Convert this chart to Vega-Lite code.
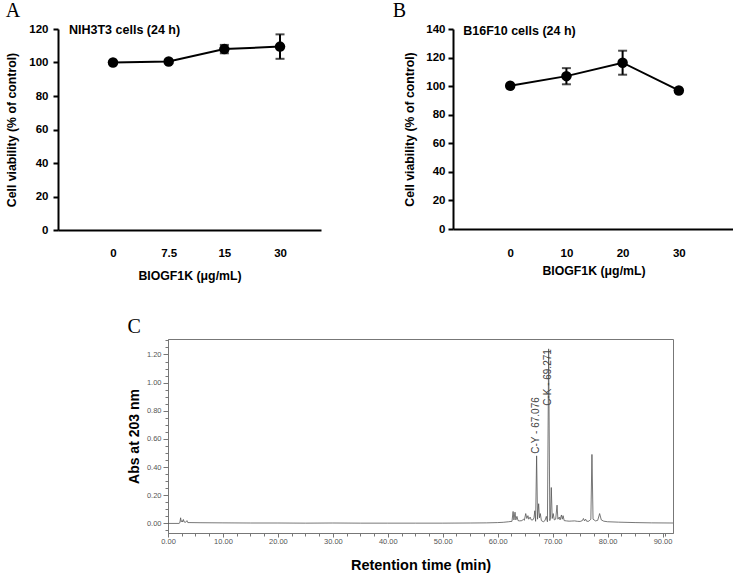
{
  "$schema": "https://vega.github.io/schema/vega-lite/v6.json",
  "padding": {"left": 5, "top": 1, "right": 0, "bottom": 0},
  "background": "white",
  "config": {"view": {"stroke": null}, "font": "Liberation Sans", "axis": {"grid": false}},
  "spacing": 34,
  "vconcat": [
    {
      "spacing": 71,
      "hconcat": [
        {
          "width": 263,
          "height": 201,
          "title": {"text": "A", "anchor": "start", "frame": "bounds", "font": "Liberation Serif", "fontSize": 20, "fontWeight": "normal", "offset": 2, "color": "black"},
          "data": {"values": [
            {"dose": "0", "mean": 100, "lo": 99.5, "hi": 100.5},
            {"dose": "7.5", "mean": 100.6, "lo": 99.6, "hi": 101.6},
            {"dose": "15", "mean": 108, "lo": 105.5, "hi": 110.5},
            {"dose": "30", "mean": 109.5, "lo": 102.2, "hi": 116.8}
          ]},
          "encoding": {
            "x": {"field": "dose", "type": "ordinal", "sort": null,
              "scale": {"type": "point", "padding": 0.862, "align": 0.573},
              "axis": {"title": "BIOGF1K (μg/mL)", "labelAngle": 0, "ticks": false, "labelPadding": 17, "domainWidth": 2, "domainColor": "black", "labelFontWeight": "bold", "labelFontSize": 11.5, "labelColor": "black", "titleFontSize": 12.3, "titleFontWeight": "bold", "titleColor": "black", "titlePadding": 11}}
          },
          "layer": [
            {"mark": {"type": "rule", "color": "black", "strokeWidth": 2},
              "encoding": {"y": {"field": "lo", "type": "quantitative", "scale": {"domain": [0, 120], "nice": false},
                "axis": {"values": [0, 20, 40, 60, 80, 100, 120], "labelOverlap": false, "title": "Cell viability (% of control)", "tickSize": 5, "tickWidth": 2, "tickColor": "black", "domainWidth": 2, "domainColor": "black", "labelFontWeight": "bold", "labelFontSize": 11.5, "labelColor": "black", "labelPadding": 5, "titleFontSize": 12.3, "titleFontWeight": "bold", "titleColor": "black", "titlePadding": 10}},
                "y2": {"field": "hi"}}},
            {"mark": {"type": "tick", "color": "black", "size": 9, "thickness": 2},
              "encoding": {"y": {"field": "lo", "type": "quantitative", "scale": {"domain": [0, 120], "nice": false},
                "axis": {"values": [0, 20, 40, 60, 80, 100, 120], "labelOverlap": false, "title": "Cell viability (% of control)", "tickSize": 5, "tickWidth": 2, "tickColor": "black", "domainWidth": 2, "domainColor": "black", "labelFontWeight": "bold", "labelFontSize": 11.5, "labelColor": "black", "labelPadding": 5, "titleFontSize": 12.3, "titleFontWeight": "bold", "titleColor": "black", "titlePadding": 10}}}},
            {"mark": {"type": "tick", "color": "black", "size": 9, "thickness": 2},
              "encoding": {"y": {"field": "hi", "type": "quantitative", "scale": {"domain": [0, 120], "nice": false},
                "axis": {"values": [0, 20, 40, 60, 80, 100, 120], "labelOverlap": false, "title": "Cell viability (% of control)", "tickSize": 5, "tickWidth": 2, "tickColor": "black", "domainWidth": 2, "domainColor": "black", "labelFontWeight": "bold", "labelFontSize": 11.5, "labelColor": "black", "labelPadding": 5, "titleFontSize": 12.3, "titleFontWeight": "bold", "titleColor": "black", "titlePadding": 10}}}},
            {"mark": {"type": "line", "color": "black", "strokeWidth": 2},
              "encoding": {"y": {"field": "mean", "type": "quantitative", "scale": {"domain": [0, 120], "nice": false},
                "axis": {"values": [0, 20, 40, 60, 80, 100, 120], "labelOverlap": false, "title": "Cell viability (% of control)", "tickSize": 5, "tickWidth": 2, "tickColor": "black", "domainWidth": 2, "domainColor": "black", "labelFontWeight": "bold", "labelFontSize": 11.5, "labelColor": "black", "labelPadding": 5, "titleFontSize": 12.3, "titleFontWeight": "bold", "titleColor": "black", "titlePadding": 10}}}},
            {"mark": {"type": "point", "filled": true, "color": "black", "opacity": 1, "size": 110},
              "encoding": {"y": {"field": "mean", "type": "quantitative", "scale": {"domain": [0, 120], "nice": false},
                "axis": {"values": [0, 20, 40, 60, 80, 100, 120], "labelOverlap": false, "title": "Cell viability (% of control)", "tickSize": 5, "tickWidth": 2, "tickColor": "black", "domainWidth": 2, "domainColor": "black", "labelFontWeight": "bold", "labelFontSize": 11.5, "labelColor": "black", "labelPadding": 5, "titleFontSize": 12.3, "titleFontWeight": "bold", "titleColor": "black", "titlePadding": 10}}}},
            {"data": {"values": [{"label": "NIH3T3 cells (24 h)", "x": "0", "y": 120}]},
              "mark": {"type": "text", "align": "left", "baseline": "middle", "fontWeight": "bold", "fontSize": 12.5, "color": "black", "dx": -44, "dy": 1},
              "encoding": {"x": {"field": "x", "type": "ordinal", "sort": null}, "y": {"field": "y", "type": "quantitative", "scale": {"domain": [0, 120], "nice": false},
                "axis": {"values": [0, 20, 40, 60, 80, 100, 120], "labelOverlap": false, "title": "Cell viability (% of control)", "tickSize": 5, "tickWidth": 2, "tickColor": "black", "domainWidth": 2, "domainColor": "black", "labelFontWeight": "bold", "labelFontSize": 11.5, "labelColor": "black", "labelPadding": 5, "titleFontSize": 12.3, "titleFontWeight": "bold", "titleColor": "black", "titlePadding": 10}}, "text": {"field": "label"}}}
          ]
        },
        {
          "width": 281,
          "height": 200,
          "title": {"text": "B", "anchor": "start", "frame": "bounds", "font": "Liberation Serif", "fontSize": 20, "fontWeight": "normal", "offset": 2, "dx": -11, "color": "black"},
          "data": {"values": [
            {"dose": "0", "mean": 100.3, "lo": 100, "hi": 100.6},
            {"dose": "10", "mean": 107, "lo": 101.3, "hi": 112.6},
            {"dose": "20", "mean": 116.4, "lo": 108, "hi": 124.8},
            {"dose": "30", "mean": 97, "lo": 96.6, "hi": 97.4}
          ]},
          "encoding": {
            "x": {"field": "dose", "type": "ordinal", "sort": null,
              "scale": {"type": "point", "padding": 1.024, "align": 0.509},
              "axis": {"title": "BIOGF1K (μg/mL)", "labelAngle": 0, "ticks": false, "labelPadding": 18, "domainWidth": 2, "domainColor": "black", "labelFontWeight": "bold", "labelFontSize": 11.5, "labelColor": "black", "titleFontSize": 12.3, "titleFontWeight": "bold", "titleColor": "black", "titlePadding": 6}}
          },
          "layer": [
            {"mark": {"type": "rule", "color": "black", "strokeWidth": 2},
              "encoding": {"y": {"field": "lo", "type": "quantitative", "scale": {"domain": [0, 140], "nice": false},
                "axis": {"values": [0, 20, 40, 60, 80, 100, 120, 140], "labelOverlap": false, "title": "Cell viability (% of control)", "tickSize": 5, "tickWidth": 2, "tickColor": "black", "domainWidth": 2, "domainColor": "black", "labelFontWeight": "bold", "labelFontSize": 11.5, "labelColor": "black", "labelPadding": 3, "titleFontSize": 12.3, "titleFontWeight": "bold", "titleColor": "black", "titlePadding": 9}},
                "y2": {"field": "hi"}}},
            {"mark": {"type": "tick", "color": "black", "size": 9, "thickness": 2},
              "encoding": {"y": {"field": "lo", "type": "quantitative", "scale": {"domain": [0, 140], "nice": false},
                "axis": {"values": [0, 20, 40, 60, 80, 100, 120, 140], "labelOverlap": false, "title": "Cell viability (% of control)", "tickSize": 5, "tickWidth": 2, "tickColor": "black", "domainWidth": 2, "domainColor": "black", "labelFontWeight": "bold", "labelFontSize": 11.5, "labelColor": "black", "labelPadding": 3, "titleFontSize": 12.3, "titleFontWeight": "bold", "titleColor": "black", "titlePadding": 9}}}},
            {"mark": {"type": "tick", "color": "black", "size": 9, "thickness": 2},
              "encoding": {"y": {"field": "hi", "type": "quantitative", "scale": {"domain": [0, 140], "nice": false},
                "axis": {"values": [0, 20, 40, 60, 80, 100, 120, 140], "labelOverlap": false, "title": "Cell viability (% of control)", "tickSize": 5, "tickWidth": 2, "tickColor": "black", "domainWidth": 2, "domainColor": "black", "labelFontWeight": "bold", "labelFontSize": 11.5, "labelColor": "black", "labelPadding": 3, "titleFontSize": 12.3, "titleFontWeight": "bold", "titleColor": "black", "titlePadding": 9}}}},
            {"mark": {"type": "line", "color": "black", "strokeWidth": 2},
              "encoding": {"y": {"field": "mean", "type": "quantitative", "scale": {"domain": [0, 140], "nice": false},
                "axis": {"values": [0, 20, 40, 60, 80, 100, 120, 140], "labelOverlap": false, "title": "Cell viability (% of control)", "tickSize": 5, "tickWidth": 2, "tickColor": "black", "domainWidth": 2, "domainColor": "black", "labelFontWeight": "bold", "labelFontSize": 11.5, "labelColor": "black", "labelPadding": 3, "titleFontSize": 12.3, "titleFontWeight": "bold", "titleColor": "black", "titlePadding": 9}}}},
            {"mark": {"type": "point", "filled": true, "color": "black", "opacity": 1, "size": 110},
              "encoding": {"y": {"field": "mean", "type": "quantitative", "scale": {"domain": [0, 140], "nice": false},
                "axis": {"values": [0, 20, 40, 60, 80, 100, 120, 140], "labelOverlap": false, "title": "Cell viability (% of control)", "tickSize": 5, "tickWidth": 2, "tickColor": "black", "domainWidth": 2, "domainColor": "black", "labelFontWeight": "bold", "labelFontSize": 11.5, "labelColor": "black", "labelPadding": 3, "titleFontSize": 12.3, "titleFontWeight": "bold", "titleColor": "black", "titlePadding": 9}}}},
            {"data": {"values": [{"label": "B16F10 cells (24 h)", "x": "0", "y": 140}]},
              "mark": {"type": "text", "align": "left", "baseline": "middle", "fontWeight": "bold", "fontSize": 12.5, "color": "black", "dx": -47, "dy": 2},
              "encoding": {"x": {"field": "x", "type": "ordinal", "sort": null}, "y": {"field": "y", "type": "quantitative", "scale": {"domain": [0, 140], "nice": false},
                "axis": {"values": [0, 20, 40, 60, 80, 100, 120, 140], "labelOverlap": false, "title": "Cell viability (% of control)", "tickSize": 5, "tickWidth": 2, "tickColor": "black", "domainWidth": 2, "domainColor": "black", "labelFontWeight": "bold", "labelFontSize": 11.5, "labelColor": "black", "labelPadding": 3, "titleFontSize": 12.3, "titleFontWeight": "bold", "titleColor": "black", "titlePadding": 9}}, "text": {"field": "label"}}}
          ]
        }
      ]
    },
    {
      "spacing": 0,
      "hconcat": [
        {
          "width": 68,
          "height": 10,
          "data": {"values": []},
          "mark": {"type": "point", "opacity": 0},
          "encoding": {}
        },
        {
          "width": 505,
          "height": 194,
          "view": {"stroke": "#777", "strokeWidth": 1},
          "title": {"text": "C", "anchor": "start", "frame": "bounds", "font": "Liberation Serif", "fontSize": 20, "fontWeight": "normal", "offset": 2, "color": "black"},
          "layer": [
            {
              "data": {"values": [
                {"t": 0, "a": 0}, {"t": 2.0, "a": 0}, {"t": 2.15, "a": 0.004}, {"t": 2.3, "a": 0.04}, {"t": 2.4, "a": 0.012},
                {"t": 2.55, "a": 0.02}, {"t": 2.65, "a": 0.01}, {"t": 2.8, "a": 0.028}, {"t": 2.95, "a": 0.01}, {"t": 3.2, "a": 0.008},
                {"t": 3.45, "a": 0.02}, {"t": 3.6, "a": 0.006}, {"t": 4.0, "a": 0.006}, {"t": 6, "a": 0.005}, {"t": 10, "a": 0.004},
                {"t": 15, "a": 0.003}, {"t": 20, "a": 0.003}, {"t": 25, "a": 0.002}, {"t": 30, "a": 0.003}, {"t": 35, "a": 0.002},
                {"t": 40, "a": 0.002}, {"t": 45, "a": 0.002}, {"t": 50, "a": 0.002}, {"t": 55, "a": 0.003}, {"t": 58, "a": 0.004},
                {"t": 60, "a": 0.006}, {"t": 61, "a": 0.008}, {"t": 62, "a": 0.012}, {"t": 62.6, "a": 0.015}, {"t": 62.8, "a": 0.085},
                {"t": 62.95, "a": 0.025}, {"t": 63.15, "a": 0.08}, {"t": 63.3, "a": 0.025}, {"t": 63.5, "a": 0.05}, {"t": 63.7, "a": 0.02},
                {"t": 64.0, "a": 0.018}, {"t": 64.4, "a": 0.02}, {"t": 64.7, "a": 0.03}, {"t": 64.85, "a": 0.022}, {"t": 65.1, "a": 0.07},
                {"t": 65.3, "a": 0.035}, {"t": 65.5, "a": 0.055}, {"t": 65.65, "a": 0.03}, {"t": 65.9, "a": 0.045}, {"t": 66.1, "a": 0.025},
                {"t": 66.4, "a": 0.025}, {"t": 66.6, "a": 0.04}, {"t": 66.75, "a": 0.09}, {"t": 66.9, "a": 0.015}, {"t": 67.08, "a": 0.48},
                {"t": 67.25, "a": 0.03}, {"t": 67.45, "a": 0.14}, {"t": 67.6, "a": 0.04}, {"t": 67.75, "a": 0.07}, {"t": 67.95, "a": 0.02},
                {"t": 68.3, "a": 0.012}, {"t": 68.6, "a": 0.02}, {"t": 68.85, "a": 0.05}, {"t": 69.05, "a": 0.012}, {"t": 69.27, "a": 1.24},
                {"t": 69.48, "a": 0.02}, {"t": 69.6, "a": 0.04}, {"t": 69.75, "a": 0.255}, {"t": 69.92, "a": 0.035}, {"t": 70.1, "a": 0.07},
                {"t": 70.3, "a": 0.025}, {"t": 70.55, "a": 0.03}, {"t": 70.8, "a": 0.13}, {"t": 70.95, "a": 0.03}, {"t": 71.2, "a": 0.045},
                {"t": 71.35, "a": 0.025}, {"t": 71.6, "a": 0.06}, {"t": 71.75, "a": 0.03}, {"t": 71.9, "a": 0.055}, {"t": 72.1, "a": 0.02},
                {"t": 72.5, "a": 0.018}, {"t": 73, "a": 0.016}, {"t": 73.5, "a": 0.017}, {"t": 74, "a": 0.018}, {"t": 74.5, "a": 0.015},
                {"t": 75, "a": 0.014}, {"t": 75.4, "a": 0.02}, {"t": 75.6, "a": 0.035}, {"t": 75.8, "a": 0.018}, {"t": 76.0, "a": 0.03},
                {"t": 76.2, "a": 0.015}, {"t": 76.6, "a": 0.016}, {"t": 76.95, "a": 0.03}, {"t": 77.15, "a": 0.49}, {"t": 77.35, "a": 0.03},
                {"t": 77.8, "a": 0.018}, {"t": 78.2, "a": 0.022}, {"t": 78.55, "a": 0.07}, {"t": 78.85, "a": 0.025}, {"t": 79.3, "a": 0.016},
                {"t": 80, "a": 0.012}, {"t": 82, "a": 0.009}, {"t": 85, "a": 0.006}, {"t": 88, "a": 0.004}, {"t": 91.9, "a": 0.003}
              ]},
              "mark": {"type": "line", "color": "#555", "strokeWidth": 0.8},
              "encoding": {
                "x": {"field": "t", "type": "quantitative",
                  "scale": {"domain": [0, 91.9], "nice": false, "zero": false},
                  "axis": {"values": [0, 10, 20, 30, 40, 50, 60, 70, 80, 90], "format": ".2f", "labelFlush": false, "labelOverlap": false, "labelFontSize": 7.5, "labelColor": "#555", "labelPadding": 0, "tickSize": 4, "tickColor": "#777", "domainColor": "#777", "title": "Retention time (min)", "titleFontSize": 14.5, "titleFontWeight": "bold", "titleColor": "black", "titlePadding": 14}},
                "y": {"field": "a", "type": "quantitative",
                  "scale": {"domain": [-0.068, 1.31], "nice": false, "zero": false},
                  "axis": {"values": [0, 0.2, 0.4, 0.6, 0.8, 1.0, 1.2], "format": ".2f", "labelFlush": false, "labelOverlap": false, "labelFontSize": 7.5, "labelColor": "#555", "labelPadding": 2, "tickSize": 5, "tickColor": "#777", "domainColor": "#777", "title": "Abs at 203 nm", "titleFontSize": 14, "titleFontWeight": "bold", "titleColor": "black", "titlePadding": 5}}
              }
            },
            {
              "data": {"values": [
                {"t": 66.97, "a": 0.495, "label": "C-Y - 67.076"},
                {"t": 69.15, "a": 0.835, "label": "C-K - 69.271"}
              ]},
              "mark": {"type": "text", "angle": 270, "align": "left", "baseline": "middle", "fontSize": 10, "color": "#444"},
              "encoding": {
                "x": {"field": "t", "type": "quantitative",
                  "axis": {"orient": "bottom", "values": [2.5, 5, 7.5, 12.5, 15, 17.5, 22.5, 25, 27.5, 32.5, 35, 37.5, 42.5, 45, 47.5, 52.5, 55, 57.5, 62.5, 65, 67.5, 72.5, 75, 77.5, 82.5, 85, 87.5, 90.5], "labels": false, "domain": false, "title": null, "tickSize": 3, "tickColor": "#777"}},
                "y": {"field": "a", "type": "quantitative",
                  "axis": {"orient": "left", "values": [-0.05, 0.05, 0.1, 0.15, 0.25, 0.3, 0.35, 0.45, 0.5, 0.55, 0.65, 0.7, 0.75, 0.85, 0.9, 0.95, 1.05, 1.1, 1.15, 1.25, 1.3], "labels": false, "domain": false, "title": null, "tickSize": 3, "tickColor": "#777"}},
                "text": {"field": "label"}
              }
            }
          ],
          "resolve": {"axis": {"x": "independent", "y": "independent"}}
        }
      ]
    }
  ]
}
